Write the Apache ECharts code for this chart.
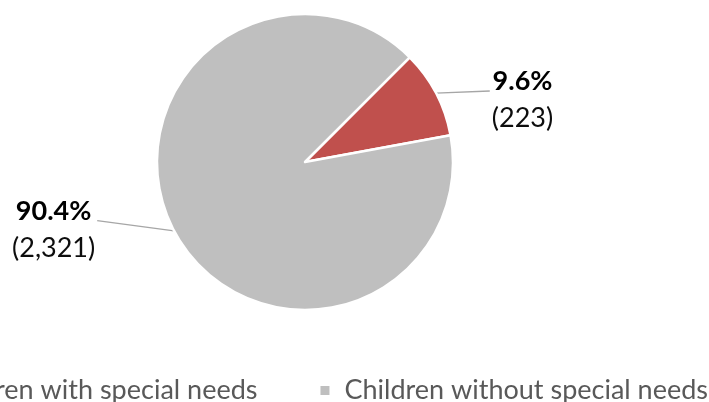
<!DOCTYPE html>
<html>
<head>
<meta charset="utf-8">
<script src="https://cdn.jsdelivr.net/npm/echarts@6/dist/echarts.min.js"></script>
<style>
  html, body { margin: 0; padding: 0; background: #ffffff; }
  #chart { width: 709px; height: 402px; }
</style>
</head>
<body>
<div id="chart"></div>
<script>
// Share of children by special-needs status
const categories = ['Children with special needs', 'Children without special needs'];
const shares = [9.6, 90.4];        // percent
const counts = [223, 2321];        // number of children
const colors = ['#C0504D', '#BFBFBF'];

const FONT = 'Lato, "Open Sans", sans-serif';
const LABEL_LINE_H = 37;

// per-slice leader settings: horizontal reach and vertical nudge of the label block
const leaderReach = [52, 75];
const labelNudge = [8, -2];

const pieData = categories.map((name, i) => ({
  name: name,
  value: shares[i],
  itemStyle: { color: colors[i] },
  labelLine: { length2: leaderReach[i] }
}));

const chart = echarts.init(document.getElementById('chart'), null, { renderer: 'canvas' });

chart.setOption({
  animation: false,
  legend: {
    data: categories,
    left: -97,
    top: 372,
    width: 1000,
    icon: 'rect',
    itemWidth: 11,
    itemHeight: 11,
    itemGap: 61,
    selectedMode: false,
    textStyle: { fontFamily: FONT, fontSize: 27, color: '#595959', padding: [0, 0, 0, 9] }
  },
  series: [{
    type: 'pie',
    center: [305, 162],
    radius: 148,
    startAngle: 45,
    clockwise: true,
    data: pieData,
    itemStyle: { borderColor: '#ffffff', borderWidth: 2.5 },
    label: {
      position: 'outside',
      distanceToLabelLine: 2,
      fontFamily: FONT,
      formatter: p => '{p|' + p.value.toFixed(1) + '%}\n{n|(' + counts[p.dataIndex].toLocaleString('en-US') + ')}',
      rich: {
        p: { fontFamily: FONT, fontSize: 27, fontWeight: 'bold', color: '#000000', align: 'center', lineHeight: LABEL_LINE_H },
        n: { fontFamily: FONT, fontSize: 27, color: '#0d0d0d', align: 'center', lineHeight: LABEL_LINE_H }
      }
    },
    labelLine: {
      show: true,
      length: 2,
      lineStyle: { color: '#A6A6A6', width: 1.3 }
    },
    // leader runs straight from the slice edge to the first text row of the label
    labelLayout: function (params) {
      const pts = params.labelLinePoints;
      const r = params.labelRect;
      if (!pts || !r) return {};
      const centerY = r.y + r.height / 2 + labelNudge[params.dataIndex];
      const end = pts[pts.length - 1];
      return {
        y: centerY,
        labelLinePoints: [pts[0], [end[0], centerY - LABEL_LINE_H / 4]]
      };
    },
    emphasis: { disabled: true }
  }]
});
</script>
</body>
</html>
